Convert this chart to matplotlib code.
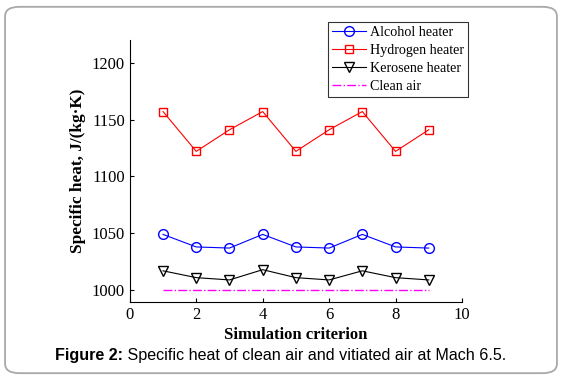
import numpy as np
import matplotlib.pyplot as plt
from matplotlib.patches import FancyBboxPatch

# Data
criterion = [1, 2, 3, 4, 5, 6, 7, 8, 9]
alcohol = [1049, 1038, 1037, 1049, 1038, 1037, 1049, 1038, 1037]
hydrogen = [1157, 1122, 1141, 1157, 1122, 1141, 1157, 1122, 1141]
kerosene = [1017, 1011, 1009, 1018, 1011, 1009, 1017, 1011, 1009]
clean_air = [1000, 1000, 1000, 1000, 1000, 1000, 1000, 1000, 1000]

plt.rcParams['font.family'] = ['Liberation Serif', 'DejaVu Serif']

fig = plt.figure(figsize=(5.62, 3.80), dpi=100)

# rounded frame around the whole figure
frame = FancyBboxPatch((0.009, 0.018), 0.982, 0.964, boxstyle='round,pad=0,rounding_size=0.025',
                       transform=fig.transFigure, facecolor='none', edgecolor='#a8a8a8', linewidth=1.3)
fig.patches.append(frame)

ax = fig.add_axes([0.231, 0.205, 0.591, 0.69])
ax.plot(criterion, alcohol, '-o', color='blue', mfc='none', ms=7, lw=0.8, label='Alcohol heater')
ax.plot(criterion, hydrogen, '-s', color='red', mfc='none', ms=6.2, lw=0.8, label='Hydrogen heater')
ax.plot(criterion, kerosene, '-v', color='black', mfc='none', ms=7.5, lw=0.8, label='Kerosene heater')
ax.plot(criterion, clean_air, '-.', color='magenta', lw=1.0, label='Clean air')

ax.set_xlim(0, 10)
ax.set_ylim(989.5, 1220)
ax.set_xticks([0, 2, 4, 6, 8, 10])
ax.set_yticks([1000, 1050, 1100, 1150, 1200])
ax.spines['top'].set_visible(False)
ax.spines['right'].set_visible(False)
ax.tick_params(direction='in', length=3, labelsize=12, width=0.8)
ax.set_xlabel('Simulation criterion', fontsize=12, fontweight='bold', labelpad=3)
ax.set_ylabel('Specific heat, J/(kg·K)', fontsize=12.4, fontweight='bold', labelpad=4)

leg = ax.legend(loc='upper right', bbox_to_anchor=(1.018, 1.07), fontsize=10.1, frameon=True,
                fancybox=False, edgecolor='black', handlelength=2.4, handletextpad=0.3,
                borderpad=0.3, labelspacing=0.36, borderaxespad=0)
leg.get_frame().set_linewidth(0.8)

# caption: bold "Figure 2:" followed by regular text, centred as a whole
cap_y = 0.064
t1 = fig.text(0, cap_y, 'Figure 2:', fontsize=11.6, fontweight='bold', family='Liberation Sans',
              va='center')
t2 = fig.text(0, cap_y, ' Specific heat of clean air and vitiated air at Mach 6.5.', fontsize=11.6,
              family='Liberation Sans', va='center')
r = fig.canvas.get_renderer()
w1 = t1.get_window_extent(r).width
w2 = t2.get_window_extent(r).width
W = fig.bbox.width
x0 = (W - w1 - w2) / 2
t1.set_x(x0 / W)
t2.set_x((x0 + w1) / W)

plt.savefig('out.png', dpi=100)
